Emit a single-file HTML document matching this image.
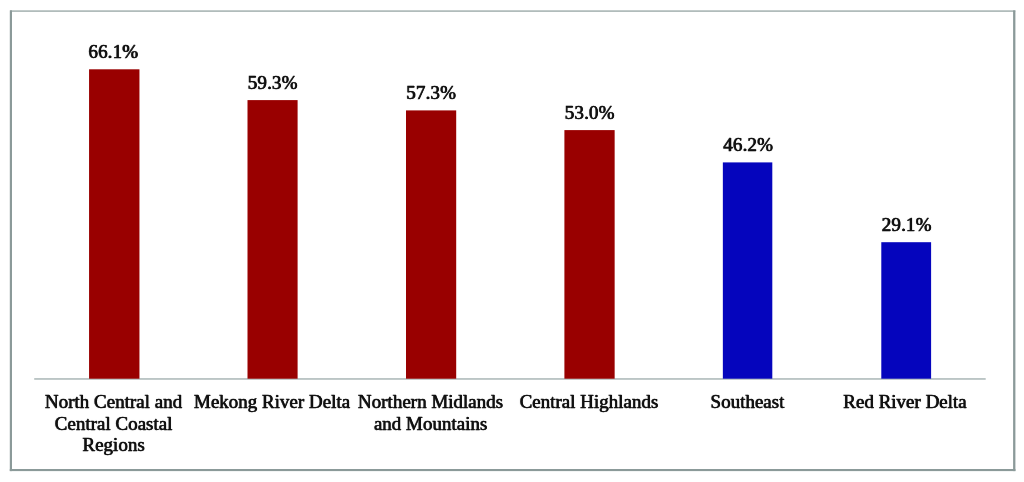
<!DOCTYPE html>
<html lang="en">
<head>
<meta charset="utf-8">
<title>Chart</title>
<style>
  html,body{margin:0;padding:0;background:#fff;}
  body{width:1024px;height:482px;position:relative;overflow:hidden;font-family:"Liberation Serif","Times New Roman",serif;color:#111;}
  svg{position:absolute;left:0;top:0;}
  .r{fill:#990000;}
  .b{fill:#0505bd;}
  .val{position:absolute;width:120px;text-align:center;font-size:19px;line-height:22px;white-space:nowrap;-webkit-text-stroke:0.4px #111;text-shadow:0.55px 0 0 #111,0 0 1.2px rgba(0,0,0,.4);transform:translate(0px,-0.2px);letter-spacing:0.15px;}
  .lab{position:absolute;width:180px;text-align:center;font-size:19px;line-height:21.5px;top:390.2px;-webkit-text-stroke:0.3px #111;text-shadow:0.5px 0 0 #111,0 0 1.2px rgba(0,0,0,.4);transform:translate(0.7px,0.5px);}
</style>
</head>
<body>
<svg width="1024" height="482" viewBox="0 0 1024 482">
  <rect x="10" y="10.3" width="1005.3" height="1.6" fill="#a9b5b4"/>
  <rect x="9.8" y="10.4" width="2.2" height="460.7" fill="#8b9a99"/>
  <rect x="1013.1" y="10.4" width="2.3" height="460.7" fill="#8b9a99"/>
  <rect x="9.8" y="469" width="1005.6" height="2.1" fill="#8b9a99"/>
  <rect x="34.2" y="378.1" width="951.5" height="1.7" fill="#b4bfbf"/>
  <rect class="r" x="89.06" y="69.3" width="50.39" height="309.4"/>
  <rect class="r" x="247.50" y="100.1" width="50.10" height="278.6"/>
  <rect class="r" x="406.00" y="110.4" width="50.20" height="268.3"/>
  <rect class="r" x="564.40" y="130.1" width="50.25" height="248.6"/>
  <rect class="b" x="722.85" y="162.4" width="49.45" height="216.3"/>
  <rect class="b" x="881.30" y="242.2" width="49.80" height="136.5"/>
</svg>

<div class="val" style="left:53.2px;top:41px">66.1%</div>
<div class="val" style="left:212.5px;top:72px">59.3%</div>
<div class="val" style="left:371px;top:82px">57.3%</div>
<div class="val" style="left:529.5px;top:102px">53.0%</div>
<div class="val" style="left:688px;top:134px">46.2%</div>
<div class="val" style="left:846.5px;top:214px">29.1%</div>

<div class="lab" style="left:22.7px">North Central and<br>Central Coastal<br>Regions</div>
<div class="lab" style="left:181.2px">Mekong River Delta</div>
<div class="lab" style="left:339.7px">Northern Midlands<br>and Mountains</div>
<div class="lab" style="left:498.1px">Central Highlands</div>
<div class="lab" style="left:656.6px">Southeast</div>
<div class="lab" style="left:814.1px">Red River Delta</div>
</body>
</html>
